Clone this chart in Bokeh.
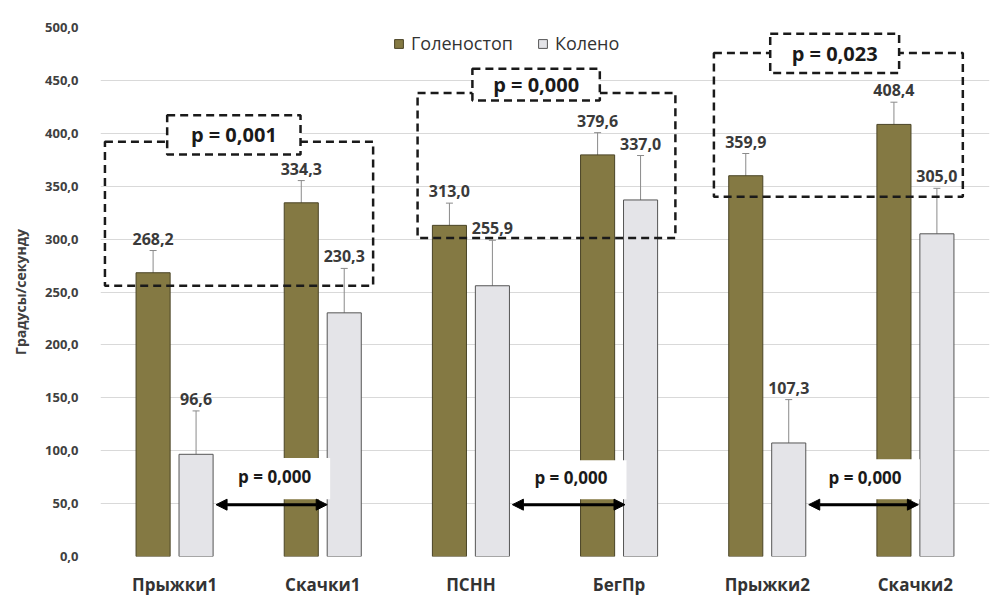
from bokeh.plotting import figure
from bokeh.models import (Range1d, FixedTicker, Whisker, TeeHead, Arrow, NormalHead,
                          ColumnDataSource, Legend, LegendItem, Label)
from bokeh.core.properties import value
from bokeh.embed import file_html
from bokeh.resources import INLINE

# ---- data ----
categories = ["Прыжки1", "Скачки1", "ПСНН", "БегПр", "Прыжки2", "Скачки2"]
ankle = [268.2, 334.3, 313.0, 379.6, 359.9, 408.4]
ankle_err = [21, 21, 21, 21, 21, 21]
knee = [96.6, 230.3, 255.9, 337.0, 107.3, 305.0]
knee_err = [41, 42, 43, 42, 41, 43]
series_names = ["Голеностоп", "Колено"]
y_ticks = [0, 50, 100, 150, 200, 250, 300, 350, 400, 450, 500]

# dashed group boxes: (left, right, bottom, top) in category units / values
group_boxes = [(0.03, 1.84, 256, 392), (2.14, 3.88, 301, 438), (4.14, 5.82, 340, 476)]
group_label_boxes = [(0.45, 1.35, 380, 417), (2.51, 3.37, 431, 461), (4.52, 5.39, 457, 494)]
group_p = ["p = 0,001", "p = 0,000", "p = 0,023"]
# arrows between groups
arrow_x = [(0.78, 1.53), (2.78, 3.54), (4.78, 5.52)]
arrow_y = 49
arrow_box = [(0.80, 1.55, 54, 93), (2.80, 3.55, 54, 91), (4.79, 5.53, 54, 92)]
arrow_p = ["p = 0,000", "p = 0,000", "p = 0,000"]

OLIVE = "#847943"
KNEE = "#E4E4E8"
FONT = "Open Sans"

fmt = lambda v: f"{v:.1f}".replace(".", ",")

x_ankle = [i + 0.5 - 0.145 for i in range(len(categories))]
x_knee = [i + 0.5 + 0.145 for i in range(len(categories))]

p = figure(width=992, height=598, output_backend="svg", toolbar_location=None,
           x_range=Range1d(0, 6), y_range=Range1d(0, 500),
           min_border_left=100, min_border_right=3, min_border_top=27, min_border_bottom=41)
p.outline_line_color = None
p.xgrid.grid_line_color = None
p.ygrid.grid_line_color = "#D9D9D9"
p.ygrid.ticker = FixedTicker(ticks=y_ticks)

src_a = ColumnDataSource(dict(x=x_ankle, top=ankle, up=[a + e for a, e in zip(ankle, ankle_err)],
                              lo=[a - e for a, e in zip(ankle, ankle_err)],
                              lab=[fmt(v) for v in ankle]))
src_k = ColumnDataSource(dict(x=x_knee, top=knee, up=[a + e for a, e in zip(knee, knee_err)],
                              lo=[a - e for a, e in zip(knee, knee_err)],
                              lab=[fmt(v) for v in knee]))

ra = p.vbar(x="x", top="top", width=0.23, source=src_a, fill_color=OLIVE, line_color="#4a4426", line_width=1)
rk = p.vbar(x="x", top="top", width=0.23, source=src_k, fill_color=KNEE, line_color="#555555", line_width=1)

for s in (src_a, src_k):
    w = Whisker(base="x", upper="up", lower="lo", source=s, line_color="#8a8a8a", line_width=1,
                upper_head=TeeHead(size=7, line_color="#8a8a8a"),
                lower_head=TeeHead(size=7, line_color="#8a8a8a"))
    p.add_layout(w)
    p.text(x="x", y="up", text="lab", source=s, text_align="center", text_baseline="bottom",
           y_offset=-6, text_font=value(FONT), text_font_style="bold", text_font_size="16px",
           text_color="#3a3a3a")

# group dashed boxes
for (l, r, b, t) in group_boxes:
    p.quad(left=l, right=r, bottom=b, top=t, fill_color=None, line_color="#1a1a1a",
           line_width=2.5, line_dash="8 5")
for (l, r, b, t), txt in zip(group_label_boxes, group_p):
    p.quad(left=l, right=r, bottom=b, top=t, fill_color="white", line_color="#1a1a1a",
           line_width=2.5, line_dash="8 5")
    p.add_layout(Label(x=(l + r) / 2, y=(b + t) / 2, text=txt, text_align="center",
                       text_baseline="middle", text_font=FONT, text_font_style="bold",
                       text_font_size="20px", text_color="#1a1a1a"))

# arrows
for (l, r, b, t), (x0, x1), txt in zip(arrow_box, arrow_x, arrow_p):
    p.quad(left=l, right=r, bottom=b, top=t, fill_color="white", line_color=None)
    p.add_layout(Label(x=(l + r) / 2, y=(b + t) / 2 + 2, text=txt, text_align="center",
                       text_baseline="middle", text_font=FONT, text_font_style="bold",
                       text_font_size="17px", text_color="#1a1a1a"))
    p.add_layout(Arrow(x_start=x0, x_end=x1, y_start=arrow_y, y_end=arrow_y,
                       line_color="black", line_width=3,
                       start=NormalHead(size=11, fill_color="black", line_color="black"),
                       end=NormalHead(size=11, fill_color="black", line_color="black")))

# axes
p.xaxis.ticker = FixedTicker(ticks=[i + 0.5 for i in range(len(categories))])
p.xaxis.major_label_overrides = {i + 0.5: c for i, c in enumerate(categories)}
p.xaxis.axis_line_color = None
p.xaxis.major_tick_line_color = None
p.xaxis.minor_tick_line_color = None
p.xaxis.major_label_text_font = FONT
p.xaxis.major_label_text_font_style = "bold"
p.xaxis.major_label_text_font_size = "17px"
p.xaxis.major_label_text_color = "#333333"
p.xaxis.major_label_standoff = 10

p.yaxis.ticker = FixedTicker(ticks=y_ticks)
p.yaxis.major_label_overrides = {t: fmt(t) for t in y_ticks}
p.yaxis.axis_line_color = None
p.yaxis.major_tick_line_color = None
p.yaxis.minor_tick_line_color = None
p.yaxis.major_label_text_font = FONT
p.yaxis.major_label_text_font_style = "bold"
p.yaxis.major_label_text_font_size = "13px"
p.yaxis.major_label_text_color = "#404040"
p.yaxis.major_label_standoff = 16
p.yaxis.axis_label = "Градусы/секунду"
p.yaxis.axis_label_text_font = FONT
p.yaxis.axis_label_text_font_style = "bold"
p.yaxis.axis_label_text_font_size = "14px"
p.yaxis.axis_label_text_color = "#404040"
p.yaxis.axis_label_standoff = 12

legend = Legend(items=[LegendItem(label=series_names[0], renderers=[ra]),
                       LegendItem(label=series_names[1], renderers=[rk])],
                orientation="horizontal", location=(293, 501),
                background_fill_alpha=0, border_line_color=None,
                label_text_font=FONT, label_text_font_size="18px", label_text_color="#333333",
                glyph_width=11, glyph_height=11, spacing=24, label_standoff=7, padding=0, margin=0)
p.add_layout(legend)

open("out.html", "w").write(file_html(p, INLINE))
